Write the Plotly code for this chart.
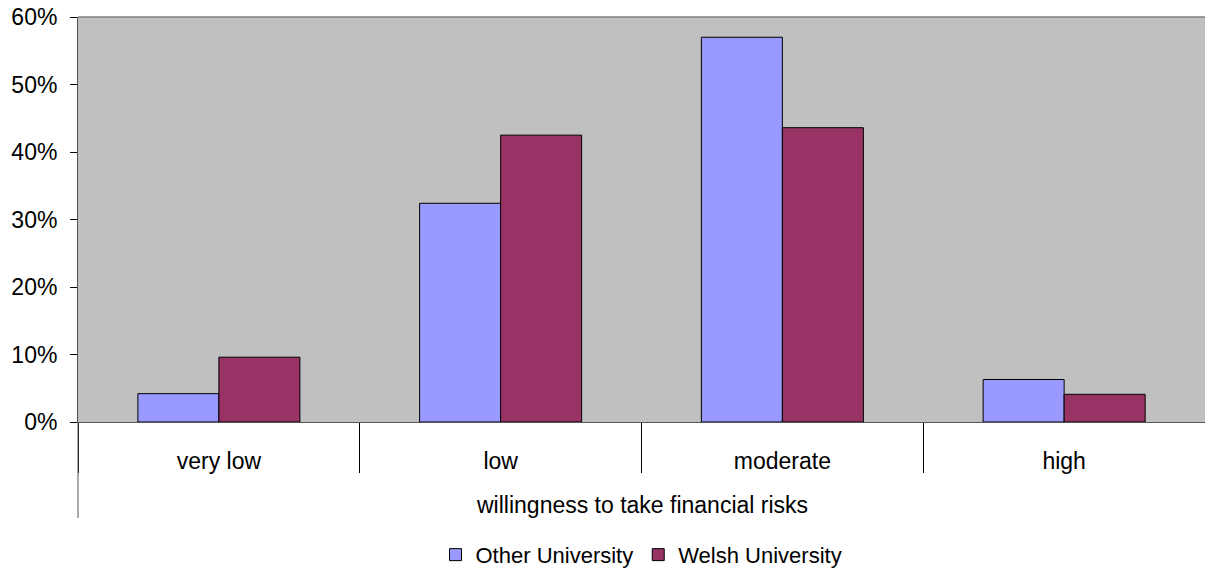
import plotly.graph_objects as go

categories = ["very low", "low", "moderate", "high"]
other_univ = [0.042, 0.324, 0.570, 0.063]
welsh_univ = [0.096, 0.425, 0.436, 0.041]
y_ticks = [0, 0.1, 0.2, 0.3, 0.4, 0.5, 0.6]
axis_title = "willingness to take financial risks"

FONT = "Liberation Sans, Arial, sans-serif"
FS = 23

fig = go.Figure()
fig.add_trace(go.Bar(x=categories, y=other_univ, name="Other University",
                     marker=dict(color="#9999FF", line=dict(color="#000000", width=1))))
fig.add_trace(go.Bar(x=categories, y=welsh_univ, name="Welsh University",
                     marker=dict(color="#993366", line=dict(color="#000000", width=1))))

fig.update_layout(
    width=1205, height=578,
    autosize=False,
    margin=dict(l=78, r=0, t=17, b=156),
    paper_bgcolor="white",
    plot_bgcolor="#C0C0C0",
    barmode="group",
    bargap=0.425,
    bargroupgap=0,
    font=dict(family=FONT, size=FS, color="#000000"),
    showlegend=True,
    legend=dict(orientation="h", x=0.5, xanchor="center", y=-0.328, yanchor="middle",
                font=dict(family=FONT, size=22), traceorder="normal",
                itemwidth=30, tracegroupgap=0),
    xaxis=dict(
        type="category",
        tickson="boundaries",
        ticks="outside", ticklen=50, tickwidth=1, tickcolor="#000000",
        showline=True, linecolor="#555555", linewidth=1,
        showgrid=False, zeroline=False,
        tickfont=dict(family=FONT, size=FS),
        ticklabelstandoff=18,
    ),
    yaxis=dict(
        range=[0, 0.6],
        tickvals=y_ticks,
        tickformat=".0%",
        ticks="outside", ticklen=7, tickwidth=1, tickcolor="#000000",
        showline=True, linecolor="#555555", linewidth=1,
        showgrid=False, zeroline=False,
        tickfont=dict(family=FONT, size=FS),
        ticklabelstandoff=8,
    ),
)

# axis title of the outer category level
fig.add_annotation(text=axis_title, xref="paper", yref="paper", x=0.5, y=-0.205,
                   xanchor="center", yanchor="middle", showarrow=False,
                   font=dict(family=FONT, size=FS, color="#000000"))

# top border of plot area
fig.add_shape(type="line", xref="paper", yref="paper", x0=0, x1=1, y0=1, y1=1,
              line=dict(color="#808080", width=1.5))
# left axis extension below the category labels (multi-level axis look)
fig.add_shape(type="line", xref="paper", yref="paper", x0=0, x1=0, y0=0, y1=-0.237,
              line=dict(color="#555555", width=1))

fig.write_html("out.html",
               config={"displayModeBar": False},
               post_script="document.body.style.margin='0';document.body.style.overflow='hidden';")
